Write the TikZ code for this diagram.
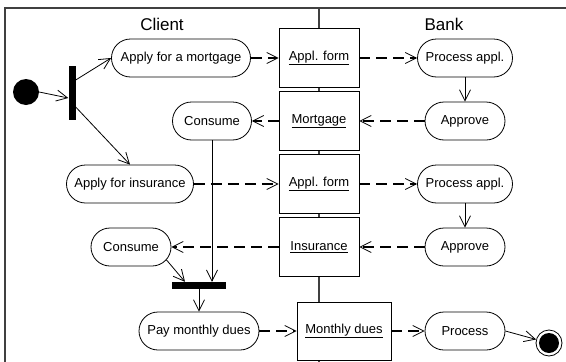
\documentclass[tikz,border=0pt]{standalone}
\usepackage{fontspec}
\setmainfont{Liberation Sans}
\usetikzlibrary{arrows.meta,shapes.misc}
\begin{document}
\begin{tikzpicture}[x=1pt,y=-1pt,
  every node/.style={font=\fontsize{13}{15}\selectfont},
  activity/.style={rounded rectangle, draw, line width=0.8pt, minimum height=38pt,
    inner xsep=0pt, fill=white},
  object/.style={rectangle, draw, line width=0.8pt, minimum width=80pt,
    minimum height=59pt, fill=white},
  bar/.style={fill=black, inner sep=0pt},
  flow/.style={line width=0.8pt,
    -{Straight Barb[length=11pt,width=11pt,line width=0.8pt]}},
  objflow/.style={flow, line width=1.4pt, dash pattern=on 11pt off 6pt},
  lane/.style={line width=1.2pt, black!75},
  lanetitle/.style={font=\fontsize{17}{20}\selectfont}
]
\useasboundingbox (0,0) rectangle (566,362);

% swimlanes
\draw[lane] (566,8) -- (5,8) -- (5,362);
\draw[lane] (319,8) -- (319,362);
\node[lanetitle] (client) at (162,24) {Client};
\node[lanetitle] (bank) at (444,24) {Bank};

% start and fork
\node[circle, fill=black, minimum size=26pt, inner sep=0pt] (init) at (26,92) {};
\node[bar, minimum width=7pt, minimum height=54pt] (fork) at (72,93) {};

% client activities
\node[activity, minimum width=139pt] (mort) at (181,58) {Apply for a mortgage};
\node[activity, minimum width=79pt] (cons1) at (212,121) {Consume};
\node[activity, minimum width=127pt] (ains) at (130,184) {Apply for insurance};
\node[activity, minimum width=80pt] (cons2) at (131,247) {Consume};
\node[bar, minimum width=54pt, minimum height=7pt] (join) at (199,285.5) {};
\node[activity, minimum width=120pt] (pay) at (199,331) {Pay monthly dues};

% objects on the lane boundary
\node[object] (form1) at (319,58) {\underline{Appl. form}};
\node[object] (mobj) at (319,121) {\underline{Mortgage}};
\node[object] (form2) at (319,184) {\underline{Appl. form}};
\node[object] (iobj) at (319,247) {\underline{Insurance}};
\node[object, minimum width=94pt, minimum height=58pt] (dues) at (344,331) {\underline{Monthly dues}};

% bank activities
\node[activity, minimum width=95pt] (proc1) at (465,58) {Process appl.};
\node[activity, minimum width=80pt] (appr1) at (465,121) {Approve};
\node[activity, minimum width=95pt] (proc2) at (465,184) {Process appl.};
\node[activity, minimum width=80pt] (appr2) at (465,247) {Approve};
\node[activity, minimum width=80pt] (proc3) at (465,331) {Process};

% end
\node[circle, draw, line width=0.8pt, minimum size=26pt, inner sep=0pt,
  path picture={\fill (path picture bounding box.center) circle (10pt);}] (fin) at (549,343) {};

% control flow
\draw[flow] (init.east) -- ([yshift=-5pt]fork.west);
\draw[flow] ([yshift=13pt]fork.east) -- (mort.west);
\draw[flow] ([yshift=-14pt]fork.east) -- (ains.north);
\draw[flow] (proc1.south) -- (appr1.north);
\draw[flow] (proc2.south) -- (appr2.north);
\draw[flow] (cons1.south) -- (cons1.south |- join.north);
\draw[flow] (cons2.-20) -- ([xshift=-14pt]join.north);
\draw[flow] (join.south) -- (pay.north);
\draw[flow] (proc3.east) -- (fin);

% object flow
\draw[objflow] (mort.east) -- (form1.west);
\draw[objflow] (form1.east) -- (proc1.west);
\draw[objflow] (appr1.west) -- (mobj.east);
\draw[objflow] (mobj.west) -- (cons1.east);
\draw[objflow] (ains.east) -- (form2.west);
\draw[objflow] (form2.east) -- (proc2.west);
\draw[objflow] (appr2.west) -- (iobj.east);
\draw[objflow] (iobj.west) -- (cons2.east);
\draw[objflow] (pay.east) -- (dues.west);
\draw[objflow] (dues.east) -- (proc3.west);
\end{tikzpicture}
\end{document}
